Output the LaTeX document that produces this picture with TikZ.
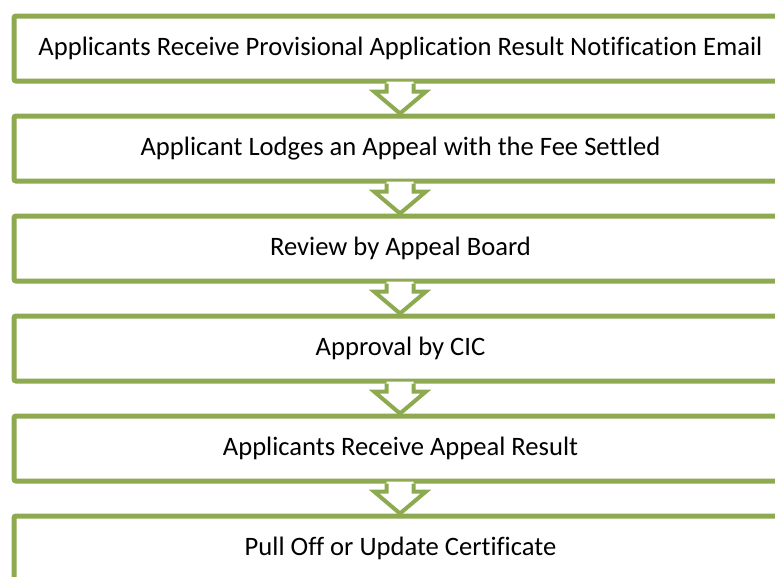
\documentclass[tikz,border=0pt]{standalone}
\usepackage{fontspec}
\setmainfont{Carlito}[Ligatures=NoCommon]
\definecolor{boxgreen}{RGB}{142,170,80}
\begin{document}
\begin{tikzpicture}[x=1pt,y=-1pt,
  stepbox/.style={draw=boxgreen,line width=5pt,fill=white,rounded corners=2pt,
    minimum width=773pt,minimum height=65pt,inner sep=0pt,font=\fontsize{26.6}{30}\selectfont,anchor=north west},
  arrowline/.style={draw=boxgreen,line width=4pt,line join=miter}]
\useasboundingbox (0,0) rectangle (775,576);
\clip (0,0) rectangle (775,576);
\fill[white] (0,0) rectangle (775,576);
\node[stepbox] (b1) at (11.5,13.5) {Applicants Receive Provisional Application Result Notification Email};
\node[stepbox] (b2) at (11.5,113.5) {Applicant Lodges an Appeal with the Fee Settled};
\node[stepbox] (b3) at (11.5,213.5) {Review by Appeal Board};
\node[stepbox] (b4) at (11.5,313.5) {Approval by CIC};
\node[stepbox] (b5) at (11.5,413.5) {Applicants Receive Appeal Result};
\node[stepbox] (b6) at (11.5,513.5) {Pull Off or Update Certificate};
\foreach \a/\b in {b1/b2,b2/b3,b3/b4,b4/b5,b5/b6}{
  \coordinate (t) at ([xshift=-0.5pt]\b.north);
  \fill[white] ([xshift=-13.5pt,yshift=2pt]\a.south -| t) -- ([xshift=-13.5pt,yshift=-8pt]\a.south -| t)
     -- ([xshift=-26pt,yshift=-8pt]\a.south -| t) -- (t) -- ([xshift=26pt,yshift=-8pt]\a.south -| t)
     -- ([xshift=13.5pt,yshift=-8pt]\a.south -| t) -- ([xshift=13.5pt,yshift=2pt]\a.south -| t) -- cycle;
  \draw[arrowline] ([xshift=-13.5pt]\a.south -| t) -- ([xshift=-13.5pt,yshift=-8pt]\a.south -| t)
     -- ([xshift=-26pt,yshift=-8pt]\a.south -| t) -- (t) -- ([xshift=26pt,yshift=-8pt]\a.south -| t)
     -- ([xshift=13.5pt,yshift=-8pt]\a.south -| t) -- ([xshift=13.5pt]\a.south -| t);
}
\end{tikzpicture}
\end{document}
